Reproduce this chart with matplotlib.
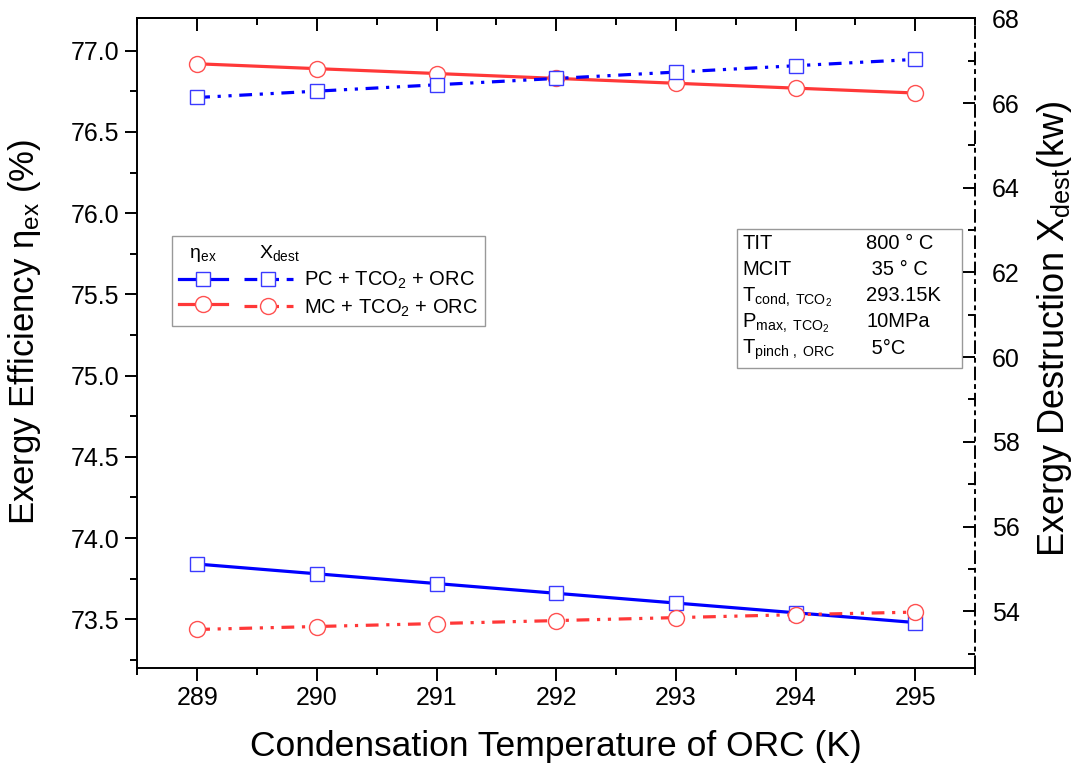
import numpy as np
import matplotlib.pyplot as plt
from matplotlib.patches import Rectangle
from matplotlib.ticker import MultipleLocator

plt.rcParams['font.family'] = ['Liberation Sans', 'DejaVu Sans']
plt.rcParams['mathtext.fontset'] = 'custom'
plt.rcParams['mathtext.rm'] = 'Liberation Sans'
plt.rcParams['mathtext.it'] = 'Liberation Sans:italic'

# condensation temperature of the ORC (K)
t_cond = [289, 290, 291, 292, 293, 294, 295]

# exergy efficiency (%), left axis
eta_pc = [73.84, 73.78, 73.72, 73.66, 73.60, 73.54, 73.48]
eta_mc = [76.92, 76.89, 76.86, 76.83, 76.80, 76.77, 76.74]

# exergy destruction (kW), right axis
xd_pc = [66.13, 66.28, 66.43, 66.58, 66.73, 66.88, 67.03]
xd_mc = [53.57, 53.64, 53.71, 53.78, 53.85, 53.92, 53.98]

# operating conditions listed in the box
cond_names = ['TIT', 'MCIT', r'T$_{\mathrm{cond,\ TCO_2}}$',
              r'P$_{\mathrm{max,\ TCO_2}}$', r'T$_{\mathrm{pinch\ ,\ ORC}}$']
cond_values = ['800 ° C', ' 35 ° C', '293.15K', '10MPa', ' 5°C']

blue = '#0000FF'
red = '#FF3838'
ddot = (0, (4, 2.4, 1, 2.4, 1, 2.4))

fig = plt.figure(figsize=(10.73, 7.72), dpi=100)
ax = fig.add_axes([0.128, 0.1347, 0.7807, 0.8416])
ax2 = ax.twinx()

sq = dict(marker='s', markersize=10, markerfacecolor='white', markeredgewidth=1.0)
ci = dict(marker='o', markersize=11.5, markerfacecolor='white', markeredgewidth=1.0)

l1, = ax.plot(t_cond, eta_pc, color=blue, lw=2.3, markeredgecolor='#3a3aff', **sq)
l2, = ax.plot(t_cond, eta_mc, color=red, lw=2.3, markeredgecolor='#ff5050', **ci)
l3, = ax2.plot(t_cond, xd_pc, color=blue, lw=2.3, ls=ddot, markeredgecolor='#3a3aff', **sq)
l4, = ax2.plot(t_cond, xd_mc, color=red, lw=2.3, ls=ddot, markeredgecolor='#ff5050', **ci)

ax.set_xlim(288.5, 295.5)
ax.set_ylim(73.2, 77.2)
ax2.set_ylim(52.66, 68)

ax.xaxis.set_major_locator(MultipleLocator(1))
ax.xaxis.set_minor_locator(MultipleLocator(0.5))
ax.yaxis.set_major_locator(MultipleLocator(0.5))
ax.yaxis.set_minor_locator(MultipleLocator(0.25))
ax.yaxis.set_major_formatter('{x:.1f}')
ax2.yaxis.set_major_locator(MultipleLocator(2))
ax2.yaxis.set_minor_locator(MultipleLocator(1))

for s in ax.spines.values():
    s.set_linewidth(1.4)
ax.spines['right'].set_visible(False)
for k in ['left', 'top', 'bottom']:
    ax2.spines[k].set_visible(False)
ax2.spines['right'].set_linewidth(1.4)
ax2.spines['right'].set_linestyle((0, (6, 3, 1.5, 3)))

ax.tick_params(axis='both', which='major', direction='out', length=9, width=1.4,
               labelsize=18, pad=4)
ax.tick_params(axis='both', which='minor', direction='out', length=5, width=1.4)
ax2.tick_params(axis='y', which='major', direction='in', length=9, width=1.4,
                labelsize=18, pad=12)
ax2.tick_params(axis='y', which='minor', direction='in', length=5, width=1.4)

# inward ticks along the top edge
top = ax.secondary_xaxis('top')
top.xaxis.set_major_locator(MultipleLocator(1))
top.xaxis.set_minor_locator(MultipleLocator(0.5))
top.tick_params(which='major', direction='in', length=9, width=1.4, labeltop=False)
top.tick_params(which='minor', direction='in', length=5, width=1.4)
top.spines['top'].set_linewidth(1.4)

ax.set_xlabel('Condensation Temperature of ORC (K)', fontsize=25.5, labelpad=14)
ax.set_ylabel(r'Exergy Efficiency η$_{\mathrm{ex}}$ (%)', fontsize=25)
ax2.set_ylabel(r'Exergy Destruction X$_{\mathrm{dest}}$(kw)', fontsize=26)
ax.yaxis.set_label_coords(-0.1126, 0.517)
ax2.yaxis.set_label_coords(1.0716, 0.522)

leg = ax.legend([l1, l2, l3, l4], ['', '', r'PC + TCO$_2$ + ORC', r'MC + TCO$_2$ + ORC'],
                ncol=2, loc='upper left', bbox_to_anchor=(0.041, 0.665), borderaxespad=0,
                fontsize=14.5, handlelength=2.4, handletextpad=0.55, columnspacing=0.3,
                borderpad=0.35, labelspacing=0.3,
                fancybox=False, edgecolor='#999999', framealpha=1,
                title=r'  η$_{\mathrm{ex}}$        X$_{\mathrm{dest}}$',
                title_fontsize=14, alignment='left')
leg.get_frame().set_linewidth(1.0)

# box with the operating conditions
box = Rectangle((0.716, 0.462), 0.269, 0.214, transform=ax.transAxes,
                facecolor='white', edgecolor='#999999', lw=1.0, zorder=5)
ax.add_patch(box)
row_y = np.linspace(0.645, 0.484, len(cond_names))
for name, val, y in zip(cond_names, cond_values, row_y):
    ax.text(0.722, y, name, transform=ax.transAxes, fontsize=14.5, va='baseline', zorder=6)
    ax.text(0.870, y, val, transform=ax.transAxes, fontsize=14.5, va='baseline', zorder=6)

fig.savefig('out.png', dpi=100)
